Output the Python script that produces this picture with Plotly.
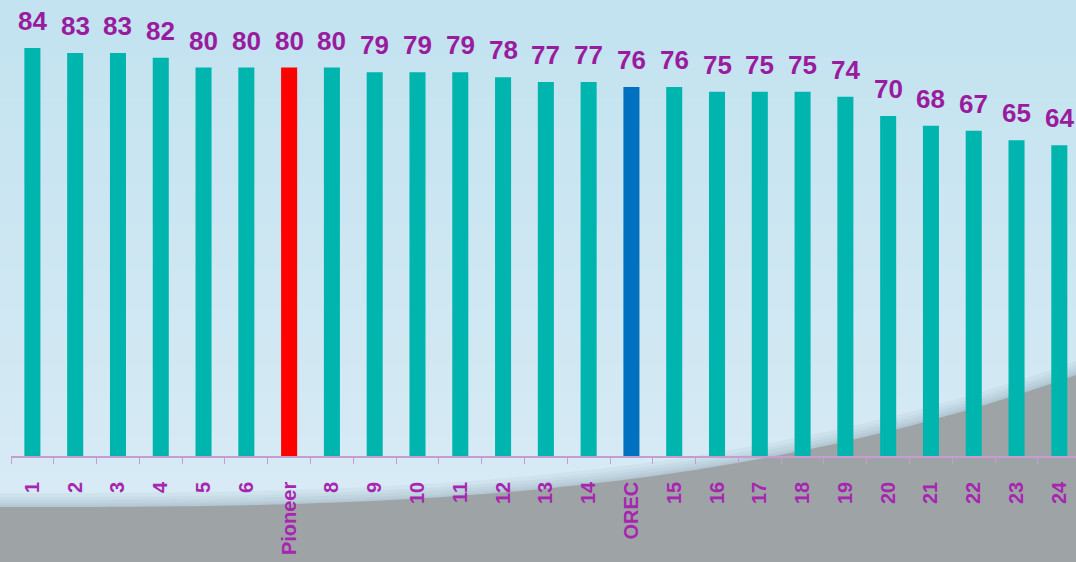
import plotly.graph_objects as go
import numpy as np

# ---- data ----
categories = ["1", "2", "3", "4", "5", "6", "Pioneer", "8", "9", "10", "11", "12", "13",
              "14", "OREC", "15", "16", "17", "18", "19", "20", "21", "22", "23", "24"]
values = [84, 83, 83, 82, 80, 80, 80, 80, 79, 79, 79, 78, 77, 77, 76, 76, 75, 75, 75,
          74, 70, 68, 67, 65, 64]
highlight_colors = {"Pioneer": "#FF0000", "OREC": "#0070C0"}
default_color = "#00B5AE"
bar_colors = [highlight_colors.get(c, default_color) for c in categories]

label_color = "#9A1C9E"
tick_color = "#A626B0"
axis_color = "#C79CD0"

W, H = 1076, 562
ML, MR, MT, MB = 11, 0, 0, 106
plot_w = W - ML - MR
plot_h = H - MT - MB


def px_to_paper(xp, yp):
    return (xp - ML) / plot_w, (H - MB - yp) / plot_h


shapes = []
# background vertical gradient (stripes)
top_rgb = np.array([195, 227, 240])
bot_rgb = np.array([218, 236, 246])
n = 40
for i in range(n):
    y0 = H * i / n
    y1 = H * (i + 1) / n + 1
    t = i / (n - 1)
    c = (top_rgb + (bot_rgb - top_rgb) * t).astype(int)
    _, py0 = px_to_paper(0, y0)
    _, py1 = px_to_paper(0, y1)
    px0, _ = px_to_paper(0, 0)
    px1, _ = px_to_paper(W, 0)
    shapes.append(dict(type="rect", xref="paper", yref="paper", x0=px0, x1=px1,
                       y0=py1, y1=py0, fillcolor=f"rgb({c[0]},{c[1]},{c[2]})",
                       line=dict(width=0), layer="below"))


def curve_path(offset):
    xs = np.linspace(0, W, 80)
    ys = 507 - 132 * (xs / W) ** 2.9 - offset
    pts = [px_to_paper(x, y) for x, y in zip(xs, ys)]
    bl = px_to_paper(0, H)
    br = px_to_paper(W, H)
    d = "M {:.5f},{:.5f} ".format(*bl)
    d += " ".join("L {:.5f},{:.5f}".format(*p) for p in pts)
    d += " L {:.5f},{:.5f} Z".format(*br)
    return d


# soft shadow band above the swoosh
for off in [14, 10, 7, 4, 2]:
    shapes.append(dict(type="path", xref="paper", yref="paper", path=curve_path(off),
                       fillcolor="rgba(110,140,155,0.08)", line=dict(width=0), layer="below"))
# grey swoosh
shapes.append(dict(type="path", xref="paper", yref="paper", path=curve_path(0),
                   fillcolor="#9EA4A6", line=dict(width=0), layer="below"))

fig = go.Figure()
fig.add_trace(go.Bar(x=categories, y=values, marker=dict(color=bar_colors, line=dict(width=0)),
                     hoverinfo="x+y"))

# value labels (category positions by index, so numeric-looking names are not misread)
annotations = [dict(x=i, y=v, xref="x", yref="y", text=str(v), showarrow=False,
                    yanchor="bottom", yshift=10,
                    font=dict(family="Liberation Sans, Arial", size=26, color=label_color,
                              weight="bold"))
               for i, v in enumerate(values)]

fig.update_layout(
    width=W, height=H,
    margin=dict(l=ML, r=MR, t=MT, b=MB),
    paper_bgcolor="#D8ECF5",
    plot_bgcolor="rgba(0,0,0,0)",
    shapes=shapes,
    annotations=annotations,
    bargap=0.625,
    showlegend=False,
    xaxis=dict(type="category", range=[-0.5, 24.39], showline=True, linecolor=axis_color,
               linewidth=1.5, ticks="outside", tickson="boundaries", ticklen=6,
               tickcolor=axis_color, tickwidth=1.2, tickangle=-90, ticklabelstandoff=16,
               tickfont=dict(family="Liberation Sans, Arial", size=20, color=tick_color,
                             weight="bold"),
               showgrid=False, zeroline=False, fixedrange=True),
    yaxis=dict(range=[0, 93.9], visible=False, showgrid=False, zeroline=False,
               fixedrange=True),
)

fig.write_html("out.html", post_script="document.body.style.margin='0';",
               config={"displayModeBar": False})
